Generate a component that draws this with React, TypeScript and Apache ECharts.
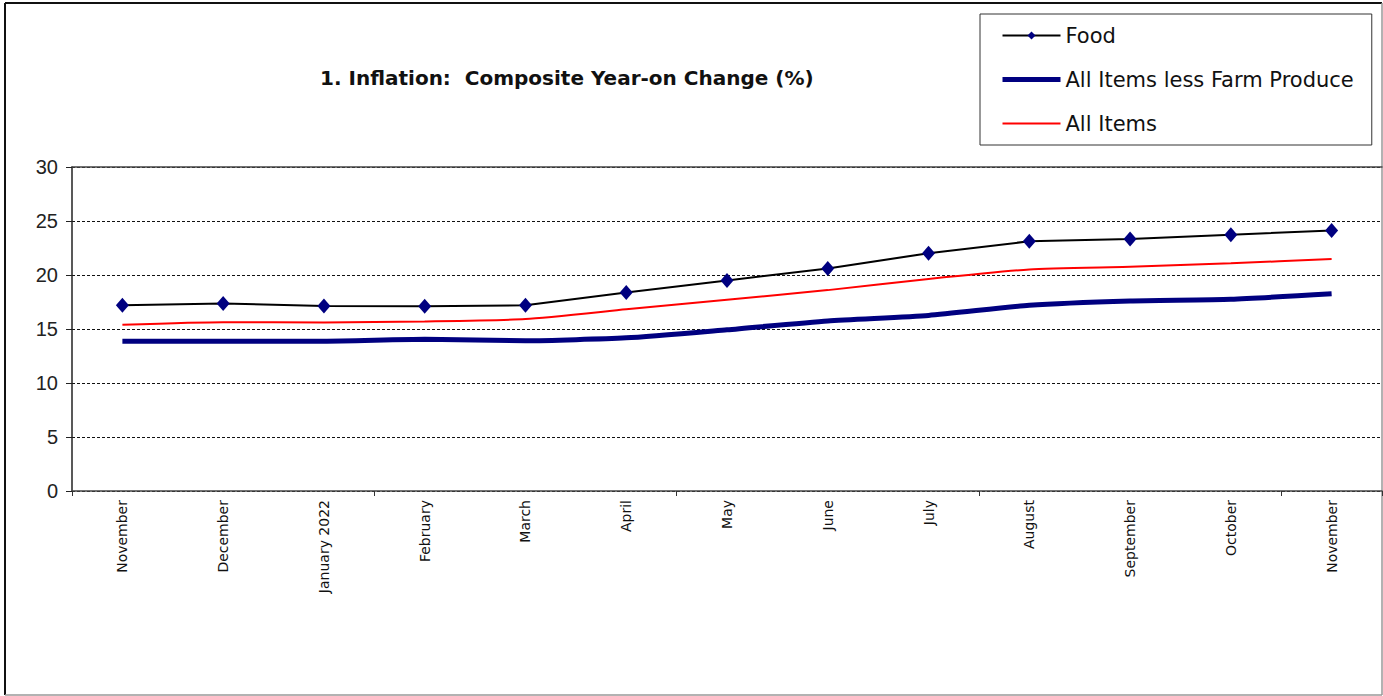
import React, { useEffect, useRef } from "react";
import * as echarts from "echarts";

const categories = [
  "November", "December", "January 2022", "February", "March", "April",
  "May", "June", "July", "August", "September", "October", "November",
];
const foodValues = [17.21, 17.37, 17.13, 17.11, 17.2, 18.37, 19.5, 20.6, 22.02, 23.12, 23.34, 23.72, 24.13];
const coreValues = [13.87, 13.87, 13.87, 14.04, 13.91, 14.18, 14.93, 15.75, 16.26, 17.2, 17.6, 17.76, 18.26];
const allItemsValues = [15.4, 15.63, 15.6, 15.7, 15.92, 16.82, 17.71, 18.6, 19.64, 20.52, 20.77, 21.09, 21.47];
const yTicks = { min: 0, max: 30, interval: 5 };
const titleText = "1. Inflation:  Composite Year-on Change (%)";
const seriesNames = ["Food", "All Items less Farm Produce", "All Items"];

const FONT = "'Liberation Sans', Arial, sans-serif";
const WIDE = "'DejaVu Sans', 'Liberation Sans', sans-serif";

export default function App() {
  const ref = useRef<HTMLDivElement>(null);
  useEffect(() => {
    if (!ref.current) return;
    const chart = echarts.init(ref.current, undefined, { renderer: "svg" });
    chart.setOption({
      animation: false,
      backgroundColor: "#ffffff",
      title: {
        text: titleText,
        left: 315,
        top: 63,
        textStyle: { fontFamily: WIDE, fontSize: 20, fontWeight: "bold", color: "#111" },
      },
      legend: {
        orient: "vertical",
        left: 980,
        top: 14,
        itemWidth: 58,
        itemHeight: 10,
        itemGap: 23,
        padding: [11, 18, 11, 20],
        borderColor: "#333",
        borderWidth: 1,
        textStyle: { fontFamily: WIDE, fontSize: 21, color: "#111" },
        data: [
          { name: seriesNames[0] },
          { name: seriesNames[1], itemStyle: { opacity: 0 }, lineStyle: { width: 5 } },
          { name: seriesNames[2], itemStyle: { opacity: 0 }, lineStyle: { width: 2 } },
        ],
      },
      graphic: [
        { type: "line", shape: { x1: 5, y1: 3, x2: 1382, y2: 3 }, style: { stroke: "#111", lineWidth: 2 } },
        { type: "line", shape: { x1: 5, y1: 3, x2: 5, y2: 695 }, style: { stroke: "#111", lineWidth: 2 } },
        { type: "line", shape: { x1: 5, y1: 695, x2: 1382, y2: 695 }, style: { stroke: "#999", lineWidth: 1.5 } },
        { type: "line", shape: { x1: 1382, y1: 3, x2: 1382, y2: 695 }, style: { stroke: "#999", lineWidth: 1.5 } },
      ],
      grid: { left: 72, right: 1, top: 167, bottom: 205, containLabel: false },
      xAxis: [
        {
          type: "category",
          data: categories,
          boundaryGap: true,
          axisLine: { lineStyle: { color: "#444", width: 1.5 } },
          axisTick: { show: true, interval: 2, length: 5, lineStyle: { color: "#333" } },
          axisLabel: {
            interval: 0,
            rotate: 90,
            margin: 9,
            fontFamily: WIDE,
            fontSize: 14,
            color: "#111",
          },
          splitLine: { show: false },
        },
        {
          type: "category",
          data: categories,
          position: "top",
          axisLine: { show: true, lineStyle: { color: "#444", width: 1.5 } },
          axisTick: { show: false },
          axisLabel: { show: false },
        },
      ],
      yAxis: {
        type: "value",
        min: yTicks.min,
        max: yTicks.max,
        interval: yTicks.interval,
        axisLine: { show: true, lineStyle: { color: "#222", width: 1.5 } },
        axisTick: { show: true, length: 6, lineStyle: { color: "#222" } },
        axisLabel: { fontFamily: FONT, fontSize: 20, color: "#222", margin: 14 },
        splitLine: { show: true, lineStyle: { color: "#111", type: [3, 2], width: 1 } },
      },
      series: [
        {
          name: seriesNames[2],
          type: "line",
          data: allItemsValues,
          symbol: "none",
          smooth: 0.2,
          lineStyle: { color: "#ff0000", width: 2 },
          itemStyle: { color: "#ff0000" },
          z: 2,
        },
        {
          name: seriesNames[1],
          type: "line",
          data: coreValues,
          symbol: "none",
          smooth: 0.2,
          lineStyle: { color: "#000080", width: 5 },
          itemStyle: { color: "#000080" },
          z: 1,
        },
        {
          name: seriesNames[0],
          type: "line",
          data: foodValues,
          symbol: "diamond",
          symbolSize: [13, 15],
          lineStyle: { color: "#000000", width: 2 },
          itemStyle: { color: "#000080" },
          z: 3,
        },
      ],
    });
    return () => chart.dispose();
  }, []);
  return (
    <div
      ref={ref}
      style={{ position: "absolute", left: 0, top: 0, width: 1383, height: 696 }}
    />
  );
}
